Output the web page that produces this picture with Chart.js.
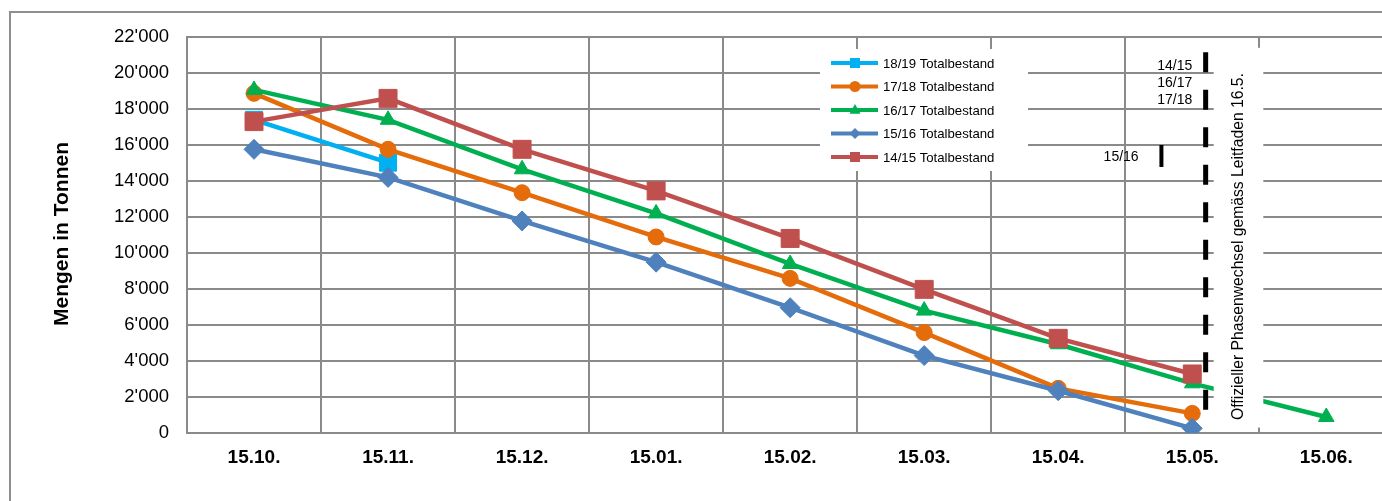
<!DOCTYPE html>
<html>
<head>
<meta charset="utf-8">
<script src="https://cdn.jsdelivr.net/npm/chart.js@4.4.1/dist/chart.umd.min.js"></script>
<style>
  html, body { margin: 0; padding: 0; background: #fff; overflow: hidden; }
  #page { position: relative; width: 1382px; height: 501px; overflow: hidden; }
  #frame { position: absolute; left: 9px; top: 11px; width: 1500px; height: 700px; border: 2px solid #8e8e8e; }
  #chart { position: absolute; left: 0; top: 0; }
</style>
</head>
<body>
<div id="page">
  <div id="frame"></div>
  <canvas id="chart" width="1407" height="501"></canvas>
</div>
<script>
// x categories (month dates)
const labels = ['15.10.', '15.11.', '15.12.', '15.01.', '15.02.', '15.03.', '15.04.', '15.05.', '15.06.'];

// stock in tonnes
const bestand1819 = [17400, 15020];
const bestand1718 = [18870, 15760, 13350, 10890, 8590, 5580, 2480, 1090];
const bestand1617 = [19060, 17400, 14650, 12200, 9390, 6800, 4930, 2760, 890];
const bestand1516 = [15760, 14200, 11780, 9490, 6960, 4300, 2350, 260];
const bestand1415 = [17300, 18590, 15760, 13450, 10810, 7980, 5260, 3280];

const yTitle = 'Mengen in Tonnen';
const phaseText = 'Offizieller Phasenwechsel gemäss Leitfaden 16.5.';
const phaseX = 7.1;              // 16.5. between 15.05. and 15.06.
const marker1516X = 6.77;
// small season labels next to the phase line [text, x, y]
const seasonLabels = [['14/15', 7.0, 20390], ['16/17', 7.0, 19440], ['17/18', 7.0, 18500], ['15/16', 6.6, 15300]];

const FONT = "'Liberation Sans', Arial, sans-serif";

function fmt(v) {
  const s = Math.round(v).toString();
  return s.length > 3 ? s.slice(0, -3) + "'" + s.slice(-3) : s;
}

function drawMarker(ctx, style, x, y, r, color) {
  ctx.fillStyle = color;
  ctx.beginPath();
  if (style === 'rect') {
    ctx.rect(x - r, y - r, 2 * r, 2 * r);
  } else if (style === 'circle') {
    ctx.arc(x, y, r, 0, Math.PI * 2);
  } else if (style === 'triangle') {
    ctx.moveTo(x, y - r * 1.1); ctx.lineTo(x + r, y + r * 0.7); ctx.lineTo(x - r, y + r * 0.7); ctx.closePath();
  } else if (style === 'rectRot') {
    ctx.moveTo(x, y - r); ctx.lineTo(x + r, y); ctx.lineTo(x, y + r); ctx.lineTo(x - r, y); ctx.closePath();
  }
  ctx.fill();
}

const extras = {
  id: 'extras',
  afterDatasetsDraw(chart) {
    const ctx = chart.ctx;
    const xs = chart.scales.x, ys = chart.scales.y;
    const area = chart.chartArea;
    ctx.save();

    // y axis title
    ctx.save();
    ctx.translate(area.left - 125, ys.getPixelForValue(11000) - 1);
    ctx.rotate(-Math.PI / 2);
    ctx.font = 'bold 21px ' + FONT;
    ctx.fillStyle = '#000';
    ctx.textAlign = 'center';
    ctx.textBaseline = 'middle';
    ctx.fillText(yTitle, 0, 0);
    ctx.restore();

    // legend box inside the plot
    const lx = area.left + 633, ly = area.top + 12;
    ctx.fillStyle = '#fff';
    ctx.fillRect(lx, ly, 208, 122);
    chart.data.datasets.forEach((ds, i) => {
      const cy = ly + 14 + i * 23.5;
      ctx.strokeStyle = ds.borderColor;
      ctx.lineWidth = 4;
      ctx.beginPath();
      ctx.moveTo(lx + 11, cy); ctx.lineTo(lx + 58, cy); ctx.stroke();
      drawMarker(ctx, ds.pointStyle, lx + 35, cy, ds.pointStyle === 'rect' ? 5 : 5.5, ds.borderColor);
      ctx.fillStyle = '#000';
      ctx.font = '13.2px ' + FONT;
      ctx.textAlign = 'left';
      ctx.textBaseline = 'middle';
      ctx.fillText(ds.label, lx + 63, cy + 1);
    });

    // white box behind the rotated note
    const bx0 = xs.getPixelForValue(phaseX + 0.06), bx1 = xs.getPixelForValue(phaseX + 0.43);
    const by0 = ys.getPixelForValue(21400), by1 = ys.getPixelForValue(300);
    ctx.fillStyle = '#fff';
    ctx.fillRect(bx0, by0, bx1 - bx0, by1 - by0);
    ctx.save();
    ctx.translate((bx0 + bx1) / 2, ys.getPixelForValue(10360));
    ctx.rotate(-Math.PI / 2);
    ctx.font = '15.7px ' + FONT;
    ctx.fillStyle = '#000';
    ctx.textAlign = 'center';
    ctx.textBaseline = 'middle';
    ctx.fillText(phaseText, 0, 0);
    ctx.restore();

    // dashed phase line
    const px = xs.getPixelForValue(phaseX);
    ctx.strokeStyle = '#000';
    ctx.lineWidth = 5;
    ctx.setLineDash([20, 17.5]);
    ctx.beginPath();
    ctx.moveTo(px, ys.getPixelForValue(21150));
    ctx.lineTo(px, ys.getPixelForValue(1150));
    ctx.stroke();
    ctx.setLineDash([]);

    // short 15/16 marker
    const mx = xs.getPixelForValue(marker1516X);
    ctx.lineWidth = 4;
    ctx.beginPath();
    ctx.moveTo(mx, ys.getPixelForValue(16000));
    ctx.lineTo(mx, ys.getPixelForValue(14780));
    ctx.stroke();

    ctx.font = '14px ' + FONT;
    ctx.fillStyle = '#000';
    ctx.textAlign = 'right';
    ctx.textBaseline = 'middle';
    seasonLabels.forEach(([t, x, y]) => ctx.fillText(t, xs.getPixelForValue(x), ys.getPixelForValue(y)));

    ctx.restore();
  }
};

function series(label, data, color, style, radius, order) {
  return {
    label, data, order,
    borderColor: color,
    backgroundColor: color,
    borderWidth: 4.5,
    pointStyle: style,
    pointRadius: radius,
    pointHoverRadius: radius,
    pointBorderWidth: 1,
    tension: 0,
    fill: false
  };
}

new Chart(document.getElementById('chart'), {
  type: 'line',
  data: {
    labels: labels,
    datasets: [
      series('18/19 Totalbestand', bestand1819, '#00B0F0', 'rect', 12, 5),
      series('17/18 Totalbestand', bestand1718, '#E46C0A', 'circle', 8, 4),
      series('16/17 Totalbestand', bestand1617, '#00B050', 'triangle', 9, 2),
      series('15/16 Totalbestand', bestand1516, '#4F81BD', 'rectRot', 10, 3),
      series('14/15 Totalbestand', bestand1415, '#C0504D', 'rect', 12.7, 1)
    ]
  },
  options: {
    responsive: false,
    animation: false,
    devicePixelRatio: 1,
    layout: { padding: { top: 37, right: 2, left: 0, bottom: 0 } },
    plugins: {
      legend: { display: false },
      tooltip: { enabled: false }
    },
    scales: {
      x: {
        offset: true,
        grid: { offset: true, color: '#8a8a8a', lineWidth: 2, drawTicks: false },
        border: { color: '#8a8a8a', width: 2 },
        ticks: { color: '#000', padding: 13, font: { family: FONT, size: 19, weight: 'bold' } },
        afterFit(scale) { scale.height = 68; scale.paddingLeft = 0; scale.paddingRight = 0; }
      },
      y: {
        min: 0,
        max: 22000,
        grid: { color: '#8a8a8a', lineWidth: 2, drawTicks: false },
        border: { color: '#8a8a8a', width: 2 },
        ticks: {
          stepSize: 2000,
          color: '#000',
          padding: 18,
          font: { family: FONT, size: 18.5 },
          callback: (v) => fmt(v)
        },
        afterFit(scale) { scale.width = 187; }
      }
    }
  },
  plugins: [extras]
});
</script>
</body>
</html>
